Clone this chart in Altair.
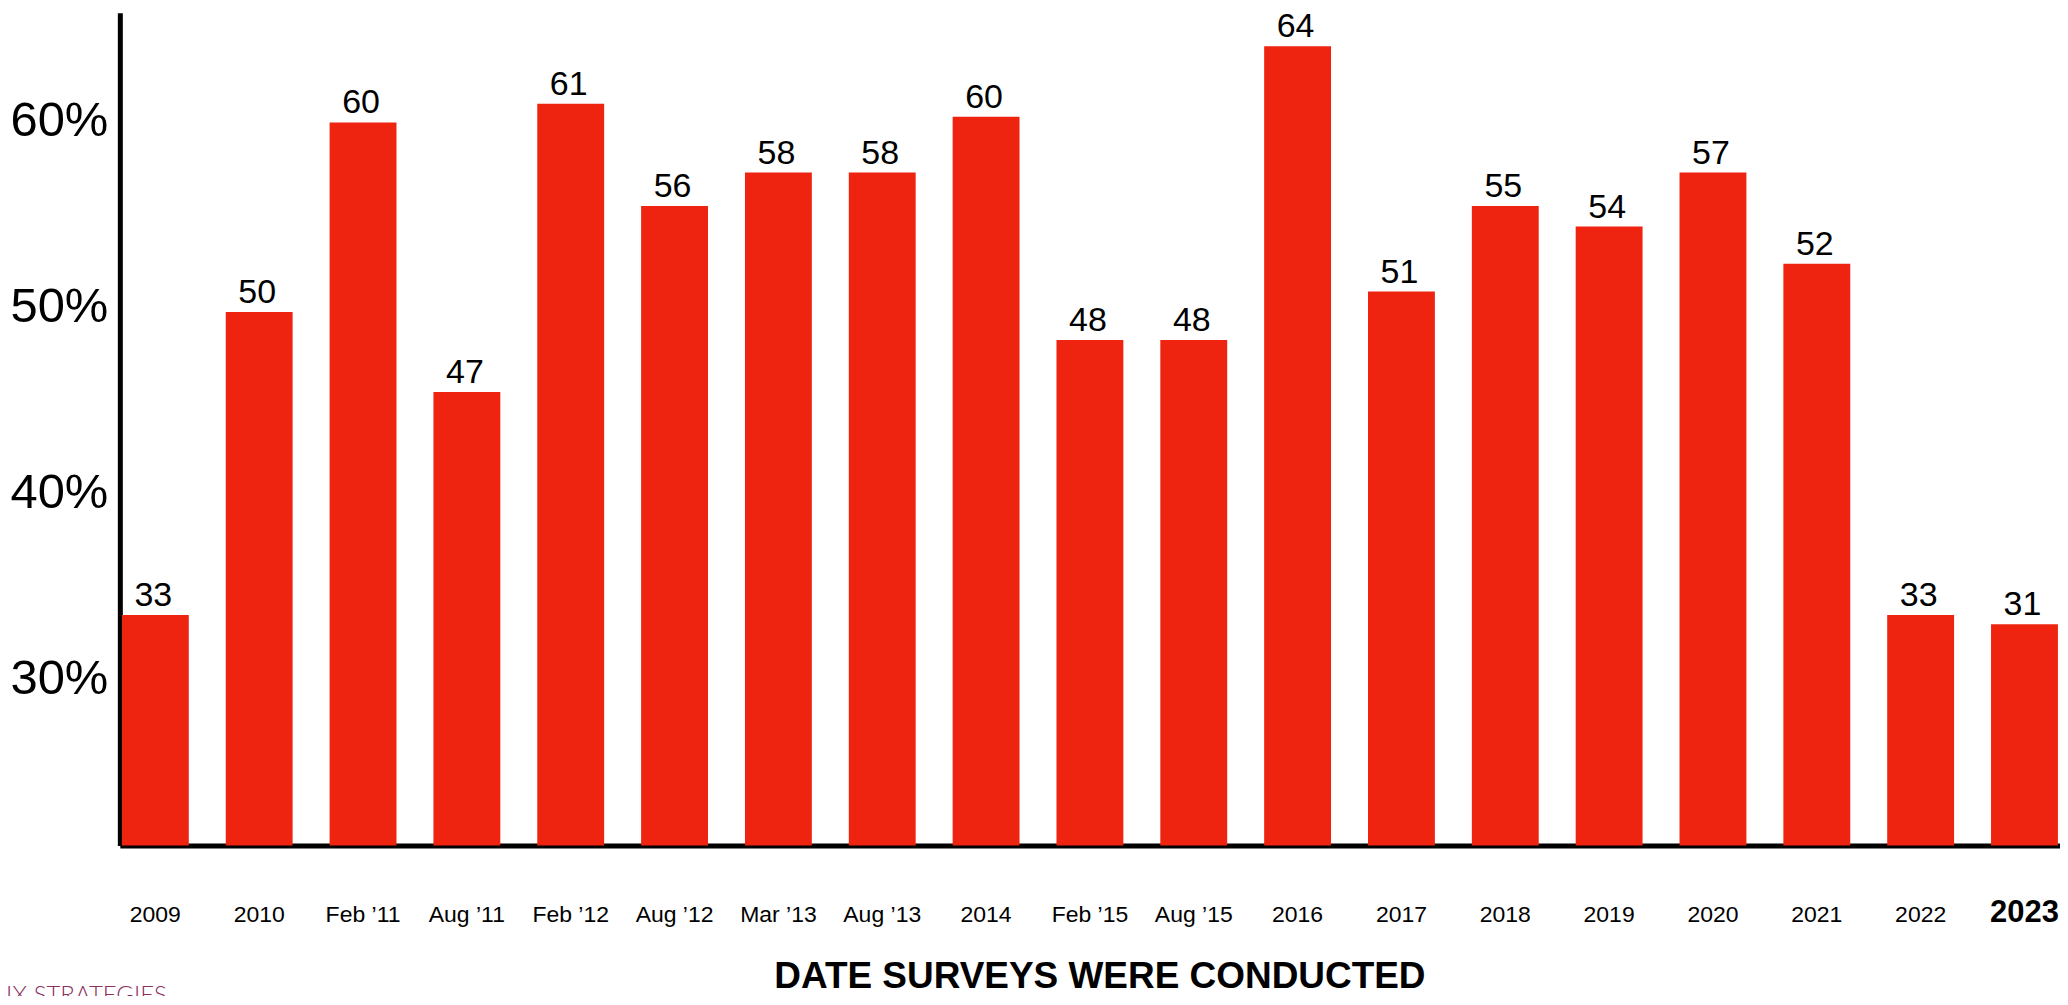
import altair as alt
import pandas as pd

# ---- data ----
dates = ["2009", "2010", "Feb ’11", "Aug ’11", "Feb ’12", "Aug ’12", "Mar ’13",
         "Aug ’13", "2014", "Feb ’15", "Aug ’15", "2016", "2017", "2018",
         "2019", "2020", "2021", "2022", "2023"]
label_values = [33, 50, 60, 47, 61, 56, 58, 58, 60, 48, 48, 64, 51, 55, 54, 57, 52, 33, 31]
bar_heights = [33.4, 49.7, 59.9, 45.4, 60.9, 55.4, 57.2, 57.2, 60.2, 48.2, 48.2,
               64.0, 50.8, 55.4, 54.3, 57.2, 52.3, 33.4, 32.9]
y_ticks = [30, 40, 50, 60]
y_domain = [21, 65.8]
axis_title = "DATE SURVEYS WERE CONDUCTED"
watermark = ["IX STRATEGIES"]

df = pd.DataFrame({"date": dates, "label": label_values, "height": bar_heights})
wm_df = pd.DataFrame({"t": watermark})

W, H = 1943, 834
FONT = "Liberation Sans"

x = alt.X(
    "date:N", sort=dates,
    scale=alt.Scale(paddingInner=0.356, paddingOuter=0.02),
    axis=alt.Axis(
        title=axis_title, labelAngle=0, ticks=False, tickSize=0,
        domainColor="black", domainWidth=5,
        labelFont=FONT,
        labelFontSize={"condition": {"test": "datum.value === '2023'", "value": 31}, "value": 23},
        labelFontWeight={"condition": {"test": "datum.value === '2023'", "value": "bold"}, "value": "normal"},
        labelColor="black", labelBaseline="alphabetic", labelPadding=76,
        titleFont=FONT, titleFontSize=37, titleFontWeight="bold", titleColor="black",
        titleBaseline="alphabetic", titleY=142, titleX=981,
    ),
)
y = alt.Y(
    "height:Q",
    scale=alt.Scale(domain=y_domain, zero=False, nice=False),
    axis=alt.Axis(
        values=y_ticks, labelExpr="datum.value + '%'", title=None, grid=False,
        ticks=False, tickSize=0, domainColor="black", domainWidth=5,
        labelFont=FONT, labelFontSize=49, labelColor="black", labelPadding=12,
    ),
)

bars = alt.Chart(df).mark_bar(color="#ee2310").encode(x=x, y=y, y2=alt.datum(y_domain[0]))

values = alt.Chart(df).mark_text(
    baseline="alphabetic", dy=-9, dx=-2, font=FONT, fontSize=34, color="black"
).encode(x=x, y=y, text="label:Q")

wm = alt.Chart(wm_df).mark_text(
    align="left", baseline="top", font="Lato", fontSize=24, fontWeight=300, color="#8a2f5e"
).encode(x=alt.value(-114), y=alt.value(973), text="t:N")

chart = alt.layer(bars, values, wm).properties(
    width=W, height=H,
    autosize=alt.AutoSizeParams(type="none"),
    padding={"left": 112, "top": 4, "right": 0, "bottom": 150},
).configure_view(strokeWidth=0)

chart.save("out.html", embed_options={"renderer": "svg", "actions": False})
